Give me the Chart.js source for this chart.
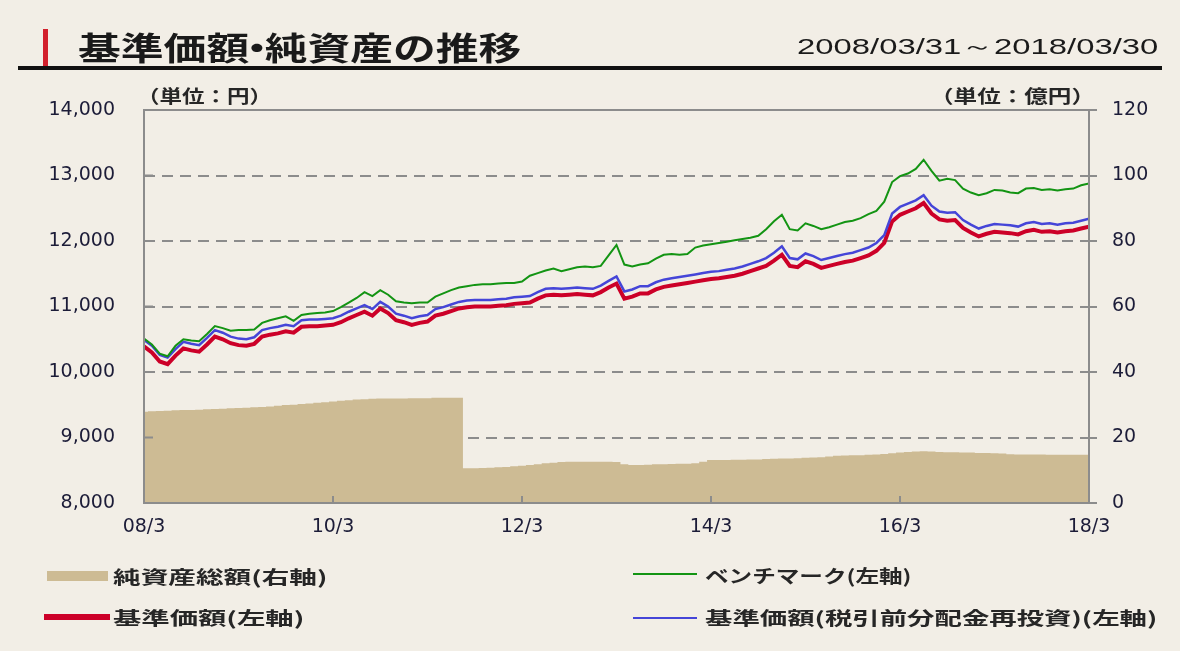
<!DOCTYPE html>
<html lang="ja">
<head>
<meta charset="utf-8">
<script src="https://cdn.jsdelivr.net/npm/chart.js@4.4.0/dist/chart.umd.min.js"></script>
<style>
  html, body { margin: 0; padding: 0; background: #f2eee6; }
  #wrap { position: relative; width: 1180px; height: 651px; overflow: hidden; font-family: "Noto Sans CJK JP", sans-serif; color: #262626; }
  #result { position: absolute; left: 0; top: 0; }
  .txt { position: absolute; white-space: nowrap; line-height: 1; transform-origin: 0 50%; }
  .bar { position: absolute; }
  .dot { margin: 0 -0.32em; }
</style>
</head>
<body>
<div id="wrap">
  <canvas id="result" width="1180" height="651"></canvas>

  <div class="bar" style="left:43px;top:29px;width:5px;height:37px;background:#d2202c"></div>
  <div class="bar" style="left:18px;top:66px;width:1144px;height:4px;background:#111"></div>
  <div class="txt" id="t-title" style="top:30px;font-size:32px;font-weight:700;color:#1a1a1a">基準価額<span class="dot">・</span>純資産の推移</div>
  <div class="txt" id="t-date" style="top:36px;font-size:22px;font-family:'Liberation Sans',sans-serif;color:#1a1a1a">2008/03/31～2018/03/30</div>
  <div class="txt" id="t-unitL" style="top:86px;font-size:18px;font-weight:700">（単位：円）</div>
  <div class="txt" id="t-unitR" style="top:86px;font-size:18px;font-weight:700">（単位：億円）</div>

  <div class="bar" style="left:47px;top:571px;width:61px;height:10px;background:#cdbb94"></div>
  <div class="txt" id="t-leg1" style="top:567px;font-size:18px;font-weight:700">純資産総額(右軸)</div>
  <div class="bar" style="left:633px;top:573px;width:64px;height:2px;background:#139413"></div>
  <div class="txt" id="t-leg2" style="top:566px;font-size:18px;font-weight:700">ベンチマーク(左軸)</div>
  <div class="bar" style="left:44px;top:614px;width:66px;height:6px;background:#cc0028"></div>
  <div class="txt" id="t-leg3" style="top:608px;font-size:18px;font-weight:700">基準価額(左軸)</div>
  <div class="bar" style="left:633px;top:617px;width:64px;height:2px;background:#4545d8"></div>
  <div class="txt" id="t-leg4" style="top:608px;font-size:18px;font-weight:700">基準価額(税引前分配金再投資)(左軸)</div>
</div>

<script>
// monthly values, 2008/3 .. 2018/3
const navPrice = [
  10390, 10300, 10160, 10120, 10250, 10360, 10330, 10310, 10420, 10540,
  10500, 10440, 10410, 10400, 10430, 10540, 10570, 10590, 10620, 10600,
  10690, 10700, 10700, 10710, 10720, 10760, 10820, 10870, 10920, 10860,
  10970, 10900, 10790, 10760, 10720, 10750, 10770, 10860, 10890, 10930,
  10970, 10990, 11000, 11000, 11000, 11010, 11020, 11040, 11050, 11060,
  11120, 11170, 11180, 11170, 11180, 11190, 11180, 11170, 11220, 11290,
  11350, 11120, 11150, 11200, 11200, 11260, 11300, 11320, 11340, 11360,
  11380, 11400, 11420, 11430, 11450, 11470, 11500, 11540, 11580, 11620,
  11700, 11790, 11620, 11600, 11690, 11650, 11590, 11620, 11650, 11680,
  11700, 11740, 11780, 11850, 11970, 12300, 12400, 12450, 12500, 12580,
  12420, 12330, 12310, 12320, 12200, 12130, 12070, 12110, 12140, 12130,
  12120, 12100, 12150, 12170, 12140, 12150, 12130, 12150, 12160, 12190,
  12220
]

const navReinvested = [
  10490, 10400, 10260, 10220, 10350, 10460, 10430, 10410, 10520, 10640,
  10600, 10540, 10510, 10500, 10530, 10640, 10670, 10690, 10720, 10700,
  10790, 10800, 10800, 10810, 10820, 10860, 10920, 10970, 11020, 10960,
  11070, 11000, 10890, 10860, 10820, 10850, 10870, 10960, 10990, 11030,
  11070, 11090, 11100, 11100, 11100, 11110, 11120, 11140, 11150, 11160,
  11220, 11270, 11280, 11270, 11280, 11290, 11280, 11270, 11320, 11390,
  11460, 11230, 11260, 11310, 11310, 11370, 11410, 11430, 11450, 11470,
  11490, 11510, 11530, 11540, 11560, 11580, 11610, 11650, 11690, 11740,
  11820, 11920, 11740, 11720, 11810, 11770, 11710, 11740, 11770, 11800,
  11820, 11860, 11900, 11970, 12090, 12420, 12520, 12570, 12620, 12700,
  12540, 12450, 12430, 12440, 12320, 12250, 12190, 12230, 12260, 12250,
  12240, 12220, 12270, 12290, 12260, 12270, 12250, 12270, 12280, 12310,
  12340
]

const benchmark = [
  10510, 10420, 10280, 10240, 10400, 10500, 10480, 10470, 10580, 10700,
  10670, 10630, 10640, 10640, 10650, 10750, 10790, 10820, 10850, 10780,
  10870, 10890, 10900, 10910, 10930, 10990, 11060, 11130, 11220, 11160,
  11250, 11180, 11080, 11060, 11050, 11060, 11060, 11150, 11200, 11250,
  11290, 11310, 11330, 11340, 11340, 11350, 11360, 11360, 11380, 11470,
  11510, 11550, 11580, 11540, 11570, 11600, 11610, 11600, 11620, 11780,
  11940, 11640, 11610, 11640, 11660, 11730, 11790, 11800, 11790, 11800,
  11900, 11930, 11950, 11970, 11990, 12010, 12030, 12050, 12080, 12180,
  12300, 12400, 12180, 12160, 12270, 12230, 12180, 12210, 12250, 12290,
  12310, 12350, 12410, 12460, 12600, 12900, 12990, 13030, 13100, 13240,
  13070, 12920, 12950, 12930, 12800, 12740, 12700, 12730, 12780, 12770,
  12740, 12730, 12800, 12810, 12780, 12790, 12770, 12790, 12800, 12850,
  12880
]

// 億円
const netAssets = [
  27.9, 28.0, 28.1, 28.2, 28.3, 28.4, 28.4, 28.5, 28.6, 28.7,
  28.8, 28.9, 29.0, 29.1, 29.2, 29.3, 29.5, 29.7, 29.9, 30.0,
  30.2, 30.4, 30.6, 30.8, 31.0, 31.2, 31.4, 31.6, 31.7, 31.8,
  31.9, 31.9, 31.9, 31.9, 32.0, 32.0, 32.0, 32.1, 32.1, 32.1,
  32.1, 10.6, 10.6, 10.7, 10.8, 10.9, 11.0, 11.2, 11.4, 11.6,
  11.8, 12.1, 12.3, 12.5, 12.6, 12.6, 12.6, 12.6, 12.6, 12.6,
  12.5, 11.8, 11.6, 11.6, 11.7, 11.8, 11.8, 11.9, 12.0, 12.0,
  12.1, 12.6, 13.1, 13.1, 13.1, 13.2, 13.2, 13.3, 13.3, 13.4,
  13.5, 13.6, 13.6, 13.7, 13.8, 13.9, 14.0, 14.2, 14.4, 14.5,
  14.6, 14.6, 14.7, 14.8, 15.0, 15.2, 15.4, 15.6, 15.7, 15.8,
  15.7, 15.6, 15.5, 15.5, 15.4, 15.4, 15.3, 15.3, 15.2, 15.1,
  14.9, 14.8, 14.8, 14.8, 14.8, 14.7, 14.7, 14.7, 14.7, 14.7,
  14.7
]

const xTickLabels = ['08/3', '10/3', '12/3', '14/3', '16/3', '18/3']

const toPoints = (arr) => arr.map((v, i) => ({ x: i, y: v }))

const axisGray = '#8c8c8c'
const tickFont = { family: 'DejaVu Sans', size: 19 }
const tickColor = '#1c1c38'

// solid frame + inward tick marks
const framePlugin = {
  id: 'frame',
  afterDatasetsDraw(chart) {
    const { ctx, chartArea: a, scales } = chart
    ctx.save()
    ctx.strokeStyle = axisGray
    ctx.lineWidth = 2
    ctx.strokeRect(a.left, a.top, a.right - a.left, a.bottom - a.top)
    ctx.beginPath()
    scales.x.ticks.forEach((t) => {
      const px = scales.x.getPixelForValue(t.value)
      ctx.moveTo(px, a.bottom)
      ctx.lineTo(px, a.bottom - 7)
    })
    scales.y.ticks.forEach((t) => {
      const py = scales.y.getPixelForValue(t.value)
      ctx.moveTo(a.left, py)
      ctx.lineTo(a.left + 9, py)
    })
    ctx.stroke()
    ctx.restore()
  }
}

const ctx = document.getElementById('result').getContext('2d')
const chart = new Chart(ctx, {
  type: 'line',
  data: {
    datasets: [
      {
        label: 'ベンチマーク(左軸)',
        data: toPoints(benchmark),
        borderColor: '#139413',
        borderWidth: 2,
        yAxisID: 'y'
      },
      {
        label: '基準価額(税引前分配金再投資)(左軸)',
        data: toPoints(navReinvested),
        borderColor: '#4545d8',
        borderWidth: 2.5,
        yAxisID: 'y'
      },
      {
        label: '基準価額(左軸)',
        data: toPoints(navPrice),
        borderColor: '#cc0028',
        borderWidth: 4,
        yAxisID: 'y'
      },
      {
        label: '純資産総額(右軸)',
        data: toPoints(netAssets),
        borderWidth: 0,
        borderColor: 'rgba(0,0,0,0)',
        backgroundColor: '#cdbb94',
        fill: 'origin',
        stepped: 'middle',
        yAxisID: 'y2'
      }
    ]
  },
  options: {
    responsive: false,
    animation: false,
    events: [],
    layout: { padding: { top: 110, left: 0, right: 0, bottom: 0 } },
    elements: { point: { radius: 0 }, line: { tension: 0 } },
    plugins: { legend: { display: false }, tooltip: { enabled: false } },
    scales: {
      x: {
        type: 'linear',
        min: 0,
        max: 120,
        afterFit: (s) => { s.height = 148 },
        grid: { display: false, drawTicks: false, tickLength: 0 },
        border: { display: false },
        ticks: {
          stepSize: 24,
          padding: 13,
          maxRotation: 0,
          font: tickFont,
          color: tickColor,
          callback: (v) => xTickLabels[v / 24]
        }
      },
      y: {
        position: 'left',
        min: 8000,
        max: 14000,
        afterFit: (s) => { s.width = 144 },
        grid: { color: axisGray, lineWidth: 2, drawTicks: false, tickLength: 0 },
        border: { display: false, dash: [11, 7] },
        ticks: {
          stepSize: 1000,
          padding: 29,
          font: tickFont,
          color: tickColor,
          callback: (v) => v.toLocaleString('en-US')
        }
      },
      y2: {
        position: 'right',
        min: 0,
        max: 120,
        afterFit: (s) => { s.width = 91 },
        grid: { drawOnChartArea: false, drawTicks: true, tickLength: 8, color: axisGray, lineWidth: 2 },
        border: { display: false },
        ticks: {
          stepSize: 20,
          padding: 15,
          font: tickFont,
          color: tickColor
        }
      }
    }
  },
  plugins: [framePlugin]
})

// the source picture is stretched sideways, so fit texts to their measured widths
function fitText(id, left, width) {
  const el = document.getElementById(id)
  el.style.transform = 'none'
  el.style.left = left + 'px'
  const w = el.offsetWidth
  el.style.transform = `scaleX(${width / w})`
}

function layoutTexts() {
  fitText('t-title', 78, 444)
  fitText('t-date', 797, 361)
  fitText('t-unitL', 137, 135)
  fitText('t-unitR', 930, 165)
  fitText('t-leg1', 113, 215)
  fitText('t-leg2', 705, 207)
  fitText('t-leg3', 113, 192)
  fitText('t-leg4', 705, 452)
}
layoutTexts()
document.fonts.ready.then(layoutTexts)
</script>
</body>
</html>
